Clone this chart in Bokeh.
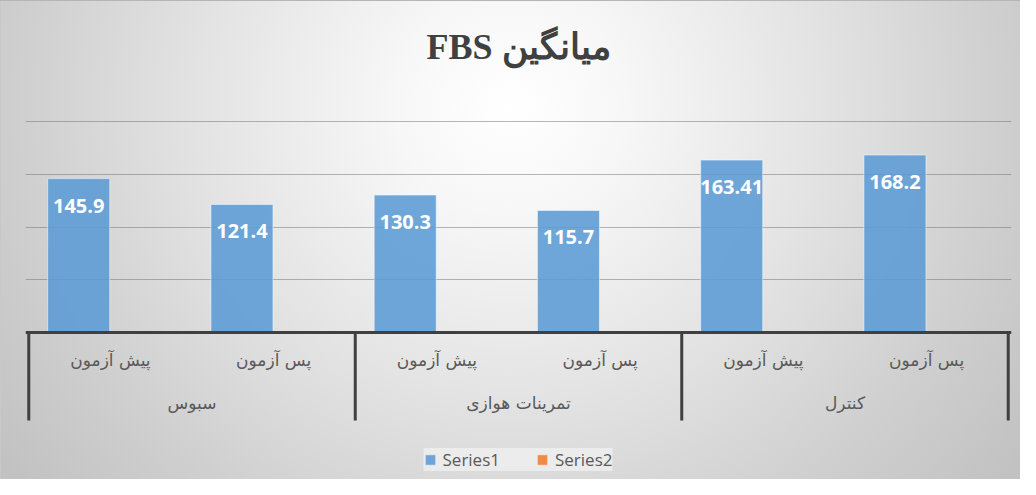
from bokeh.plotting import figure
from bokeh.models import (FactorRange, Range1d, ColumnDataSource, LabelSet, Span,
                          Legend, LegendItem, Grid)
from bokeh.transform import dodge
from bokeh.core.properties import value
from bokeh.embed import file_html
from bokeh.resources import INLINE

# ---- data ----
title_text = "میانگین FBS"
groups = ["سبوس", "تمرینات هوازی", "کنترل"]
phases = ["پیش آزمون", "پس آزمون"]
series1 = [145.9, 121.4, 130.3, 115.7, 163.41, 168.2]
series2 = [float("nan")] * 6          # Series2 has no values
series_names = ["Series1", "Series2"]
value_ticks = [50, 100, 150, 200]

factors = [(g, ph) for g in groups for ph in phases]

src = ColumnDataSource(dict(
    x=factors,
    s1=series1,
    s2=series2,
    lbl=[str(v) for v in series1],
    sub=[f[1] for f in factors],
))
# first / last sub-category of each group (for group labels and separators)
gsrc = ColumnDataSource(dict(first=[(g, phases[0]) for g in groups], g=groups))
gsrc_last = ColumnDataSource(dict(last=[(groups[-1], phases[-1])]))
tsrc = ColumnDataSource(dict(y=value_ticks))

AXIS_BOTTOM = -83.4     # lower end of the category axis separators
Y0, Y1 = -139.3, 229.4

p = figure(
    x_range=FactorRange(factors=factors, group_padding=0, factor_padding=0,
                        range_padding=0.02, range_padding_units="absolute"),
    y_range=Range1d(Y0, Y1),
    width=1020, height=479,
    output_backend="svg", toolbar_location=None,
    min_border_left=25, min_border_right=9,
    min_border_top=90, min_border_bottom=0,
)
p.xaxis.visible = False
p.yaxis.visible = False
p.center = [r for r in p.center if not isinstance(r, Grid)]
p.background_fill_alpha = 0
p.border_fill_alpha = 0
p.outline_line_color = None
p.styles = {
    "background": "radial-gradient(ellipse 62% 125% at 50% 22%, #ffffff 0%, #f7f7f7 18%, "
                  "#e4e4e4 48%, #cfcfcf 78%, #c2c2c2 100%)",
    "box-shadow": "inset 0 1px 0 #b5b5b5, inset 1px 0 0 #c8c8c8",
}

# value gridlines
p.hspan(y="y", source=tsrc, line_color="#707070", line_alpha=0.5, line_width=1)

# bars
r1 = p.vbar(x=dodge("x", -0.194, range=p.x_range), top="s1", bottom=0, width=0.38,
            source=src, fill_color="#5b9bd5", fill_alpha=0.88,
            line_color="#ffffff", line_alpha=0.5, line_width=1)
r2 = p.vbar(x=dodge("x", 0.194, range=p.x_range), top="s2", bottom=0, width=0.38,
            source=src, fill_color="#ed7d31", fill_alpha=0.88,
            line_color="#ffffff", line_alpha=0.5, line_width=1)

# data labels
labels = LabelSet(x=dodge("x", -0.194, range=p.x_range), y="s1", text="lbl", source=src,
                  y_offset=-27, text_align="center", text_baseline="middle",
                  text_font=value("Open Sans"), text_font_style="bold",
                  text_font_size="20px", text_color="#ffffff")
p.add_layout(labels)

# category axis
p.add_layout(Span(location=0, dimension="width", line_color="#404040", line_width=3))
p.segment(x0=dodge("first", -0.5, range=p.x_range), y0=0,
          x1=dodge("first", -0.5, range=p.x_range), y1=AXIS_BOTTOM,
          source=gsrc, line_color="#404040", line_width=3)
p.segment(x0=dodge("last", 0.5, range=p.x_range), y0=0,
          x1=dodge("last", 0.5, range=p.x_range), y1=AXIS_BOTTOM,
          source=gsrc_last, line_color="#404040", line_width=3)
p.text(x="x", y=-26.5, text="sub", source=src, text_align="center",
       text_baseline="middle", text_font=value("DejaVu Sans"),
       text_font_size="17px", text_color="#595959")
p.text(x=dodge("first", 0.5, range=p.x_range), y=-66.5, text="g", source=gsrc,
       text_align="center", text_baseline="middle", text_font=value("DejaVu Sans"),
       text_font_size="17px", text_color="#595959")

# title
p.title.text = "\u202b" + title_text + "\u202c"
p.title.align = "center"
p.title.text_font = "Liberation Serif"
p.title.text_font_style = "bold"
p.title.text_font_size = "36px"
p.title.text_color = "#404040"
p.title.standoff = 48

# legend
legend = Legend(items=[LegendItem(label=series_names[0], renderers=[r1]),
                       LegendItem(label=series_names[1], renderers=[r2])],
                orientation="horizontal", location="bottom_center",
                label_text_font="Open Sans", label_text_font_size="17px",
                label_text_color="#595959", glyph_width=13, glyph_height=13,
                spacing=36, padding=14, margin=8, label_standoff=6,
                background_fill_color="#ffffff", background_fill_alpha=0.45,
                border_line_color=None)
p.add_layout(legend)

open("out.html", "w").write(file_html(p, INLINE))
